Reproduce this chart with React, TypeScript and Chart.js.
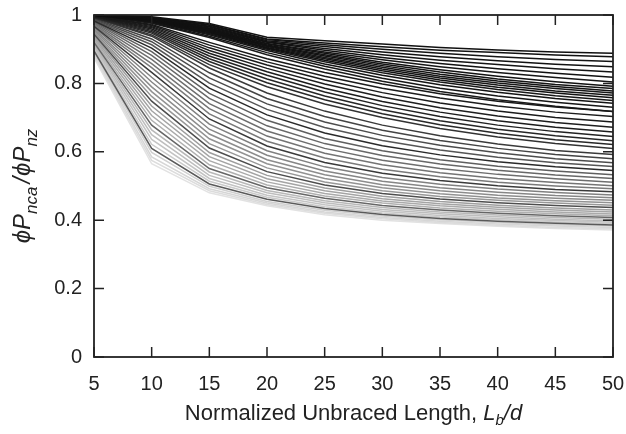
import React, { useEffect, useRef } from "react";
import { Chart, registerables } from "chart.js";

Chart.register(...registerables);

// Normalized unbraced length Lb/d
const lengthRatios = [5, 10, 15, 20, 25, 30, 35, 40, 45, 50];

// Upper black band (phiPnca/phiPnz)
const blackBand = [
  [1.0, 0.995, 0.975, 0.935, 0.925, 0.915, 0.905, 0.898, 0.892, 0.888],
  [1.0, 0.993, 0.972, 0.930, 0.918, 0.907, 0.897, 0.890, 0.883, 0.878],
  [1.0, 0.992, 0.970, 0.928, 0.913, 0.900, 0.888, 0.878, 0.870, 0.864],
  [1.0, 0.990, 0.967, 0.925, 0.908, 0.892, 0.878, 0.866, 0.856, 0.849],
  [1.0, 0.990, 0.965, 0.922, 0.902, 0.884, 0.868, 0.855, 0.843, 0.833],
  [1.0, 0.989, 0.962, 0.920, 0.897, 0.876, 0.858, 0.843, 0.830, 0.818],
  [1.0, 0.988, 0.960, 0.917, 0.892, 0.869, 0.849, 0.832, 0.817, 0.804],
  [1.0, 0.987, 0.958, 0.915, 0.888, 0.862, 0.840, 0.821, 0.805, 0.792],
  [1.0, 0.986, 0.956, 0.912, 0.884, 0.857, 0.833, 0.813, 0.797, 0.785],
  [1.0, 0.985, 0.954, 0.910, 0.880, 0.852, 0.827, 0.807, 0.791, 0.778],
  [1.0, 0.984, 0.952, 0.908, 0.876, 0.847, 0.821, 0.801, 0.785, 0.772],
  [1.0, 0.983, 0.950, 0.905, 0.872, 0.842, 0.816, 0.795, 0.778, 0.765],
  [1.0, 0.982, 0.948, 0.903, 0.868, 0.837, 0.810, 0.789, 0.772, 0.758],
  [1.0, 0.981, 0.945, 0.900, 0.863, 0.831, 0.804, 0.782, 0.764, 0.750],
  [1.0, 0.980, 0.942, 0.896, 0.857, 0.824, 0.796, 0.774, 0.756, 0.742],
  [1.0, 0.978, 0.938, 0.890, 0.850, 0.815, 0.786, 0.763, 0.745, 0.730],
  [0.999, 0.976, 0.934, 0.884, 0.842, 0.806, 0.776, 0.752, 0.733, 0.718],
];
const blackShades = [17, 17, 20, 17, 20, 17, 22, 17, 20, 17, 22, 20, 17, 24, 20, 22, 26];

// Second dark band
const darkBand = [
  [0.998, 0.972, 0.920, 0.872, 0.832, 0.798, 0.770, 0.748, 0.731, 0.718],
  [0.998, 0.969, 0.912, 0.863, 0.821, 0.786, 0.757, 0.734, 0.716, 0.703],
  [0.997, 0.966, 0.904, 0.854, 0.810, 0.773, 0.743, 0.719, 0.700, 0.687],
  [0.997, 0.963, 0.896, 0.844, 0.798, 0.760, 0.729, 0.705, 0.686, 0.672],
  [0.996, 0.959, 0.888, 0.834, 0.786, 0.747, 0.716, 0.691, 0.672, 0.658],
  [0.995, 0.955, 0.880, 0.824, 0.775, 0.735, 0.703, 0.678, 0.659, 0.645],
  [0.994, 0.951, 0.872, 0.813, 0.763, 0.723, 0.691, 0.666, 0.647, 0.632],
  [0.993, 0.947, 0.864, 0.802, 0.752, 0.711, 0.679, 0.654, 0.635, 0.621],
  [0.992, 0.942, 0.855, 0.790, 0.740, 0.700, 0.668, 0.643, 0.624, 0.610],
];
const darkShades = [24, 28, 26, 30, 28, 34, 38, 40, 50];

// Grey band, lowest first
const greyBand = [
  [0.875, 0.565, 0.480, 0.442, 0.416, 0.400, 0.390, 0.382, 0.376, 0.371],
  [0.880, 0.575, 0.486, 0.446, 0.420, 0.404, 0.393, 0.385, 0.379, 0.375],
  [0.885, 0.585, 0.492, 0.450, 0.424, 0.408, 0.397, 0.389, 0.383, 0.379],
  [0.890, 0.598, 0.499, 0.455, 0.429, 0.412, 0.401, 0.393, 0.387, 0.383],
  [0.895, 0.610, 0.506, 0.461, 0.434, 0.417, 0.405, 0.397, 0.391, 0.386],
  [0.900, 0.622, 0.514, 0.467, 0.439, 0.421, 0.409, 0.401, 0.395, 0.390],
  [0.905, 0.636, 0.522, 0.473, 0.445, 0.426, 0.414, 0.405, 0.399, 0.394],
  [0.910, 0.650, 0.531, 0.480, 0.451, 0.431, 0.419, 0.410, 0.403, 0.398],
  [0.915, 0.664, 0.541, 0.487, 0.457, 0.437, 0.424, 0.415, 0.408, 0.403],
  [0.920, 0.678, 0.551, 0.495, 0.464, 0.443, 0.430, 0.420, 0.413, 0.408],
  [0.925, 0.692, 0.562, 0.503, 0.471, 0.450, 0.436, 0.426, 0.419, 0.413],
  [0.930, 0.706, 0.574, 0.512, 0.478, 0.456, 0.442, 0.432, 0.424, 0.418],
  [0.935, 0.720, 0.586, 0.521, 0.486, 0.463, 0.448, 0.438, 0.430, 0.424],
  [0.940, 0.734, 0.598, 0.531, 0.494, 0.470, 0.455, 0.444, 0.436, 0.430],
  [0.944, 0.748, 0.611, 0.542, 0.503, 0.478, 0.462, 0.451, 0.443, 0.437],
  [0.948, 0.762, 0.624, 0.553, 0.512, 0.486, 0.469, 0.458, 0.450, 0.444],
  [0.952, 0.776, 0.638, 0.565, 0.522, 0.495, 0.477, 0.465, 0.457, 0.451],
  [0.956, 0.790, 0.652, 0.577, 0.533, 0.504, 0.486, 0.473, 0.464, 0.458],
  [0.960, 0.804, 0.666, 0.590, 0.544, 0.514, 0.495, 0.482, 0.472, 0.466],
  [0.964, 0.818, 0.681, 0.603, 0.556, 0.525, 0.505, 0.491, 0.481, 0.474],
  [0.967, 0.832, 0.696, 0.617, 0.569, 0.537, 0.516, 0.501, 0.490, 0.483],
  [0.970, 0.846, 0.711, 0.631, 0.582, 0.549, 0.527, 0.511, 0.500, 0.492],
  [0.973, 0.858, 0.726, 0.646, 0.596, 0.562, 0.539, 0.522, 0.510, 0.501],
  [0.976, 0.870, 0.741, 0.661, 0.610, 0.575, 0.551, 0.534, 0.521, 0.511],
  [0.979, 0.882, 0.756, 0.676, 0.624, 0.589, 0.564, 0.546, 0.532, 0.522],
  [0.981, 0.893, 0.771, 0.692, 0.639, 0.603, 0.577, 0.558, 0.544, 0.533],
  [0.983, 0.903, 0.786, 0.708, 0.655, 0.618, 0.591, 0.571, 0.556, 0.545],
  [0.985, 0.913, 0.801, 0.724, 0.671, 0.633, 0.605, 0.584, 0.568, 0.557],
  [0.987, 0.922, 0.816, 0.740, 0.687, 0.648, 0.619, 0.597, 0.580, 0.568],
  [0.989, 0.930, 0.831, 0.756, 0.703, 0.663, 0.633, 0.610, 0.592, 0.580],
  [0.991, 0.938, 0.845, 0.772, 0.719, 0.678, 0.647, 0.623, 0.604, 0.592],
];
const greyShades = [
  226, 220, 214, 208, 90, 202, 196, 190, 184, 102, 176, 170, 164, 158, 77, 152,
  146, 140, 134, 128, 58, 122, 116, 110, 104, 95, 42, 85, 76, 68, 58,
];

const yTickStep = 0.2;
const xTickStep = 5;

const FONT = "'Liberation Sans', Arial, 'DejaVu Sans', sans-serif";
const INK = "#222";

type Seg = { t: string; f: string; dy: number; gap?: number };

function drawSegments(ctx: CanvasRenderingContext2D, segs: Seg[], cx: number, baseY: number) {
  let total = 0;
  for (const s of segs) {
    ctx.font = s.f;
    total += ctx.measureText(s.t).width + (s.gap || 0);
  }
  let x = cx - total / 2;
  for (const s of segs) {
    ctx.font = s.f;
    ctx.fillText(s.t, x, baseY + s.dy);
    x += ctx.measureText(s.t).width + (s.gap || 0);
  }
}

const framePlugin = {
  id: "frameTicks",
  afterDraw(chart: any) {
    const { ctx, chartArea } = chart;
    const { left, right, top, bottom } = chartArea;
    const xs = chart.scales.x;
    const ys = chart.scales.y;
    ctx.save();
    ctx.strokeStyle = INK;
    ctx.lineWidth = 1.8;
    ctx.strokeRect(left, top, right - left, bottom - top);
    ctx.lineWidth = 1.5;
    ctx.beginPath();
    xs.ticks.forEach((t: any) => {
      const px = xs.getPixelForValue(t.value);
      ctx.moveTo(px, bottom);
      ctx.lineTo(px, bottom - 10);
      ctx.moveTo(px, top);
      ctx.lineTo(px, top + 10);
    });
    ys.ticks.forEach((t: any) => {
      const py = ys.getPixelForValue(t.value);
      ctx.moveTo(left, py);
      ctx.lineTo(left + 10, py);
      ctx.moveTo(right, py);
      ctx.lineTo(right - 10, py);
    });
    ctx.stroke();

    ctx.fillStyle = INK;
    ctx.textBaseline = "alphabetic";
    ctx.textAlign = "left";
    const big = `22px ${FONT}`;
    const it = `italic 22px ${FONT}`;
    const sub = `italic 15px ${FONT}`;
    // x title
    drawSegments(
      ctx,
      [
        { t: "Normalized Unbraced Length, ", f: big, dy: 0 },
        { t: "L", f: it, dy: 0 },
        { t: "b", f: sub, dy: 5 },
        { t: "/", f: it, dy: 0 },
        { t: "d", f: it, dy: 0 },
      ],
      (left + right) / 2,
      420
    );
    // y title
    const yit = `italic 24px ${FONT}`;
    const ysub = `italic 17px ${FONT}`;
    ctx.translate(30, (top + bottom) / 2);
    ctx.rotate(-Math.PI / 2);
    drawSegments(
      ctx,
      [
        { t: "\u03D5", f: yit, dy: 0 },
        { t: "P", f: yit, dy: 0 },
        { t: "nca", f: ysub, dy: 7, gap: 3 },
        { t: "/", f: yit, dy: 0, gap: 1 },
        { t: "\u03D5", f: yit, dy: 0 },
        { t: "P", f: yit, dy: 0 },
        { t: "nz", f: ysub, dy: 7 },
      ],
      0,
      0
    );
    ctx.restore();
  },
};

function gray(v: number) {
  return `rgb(${v},${v},${v})`;
}

export default function App() {
  const ref = useRef<HTMLCanvasElement | null>(null);
  useEffect(() => {
    if (!ref.current) return;
    const mk = (rows: number[][], shades: number[]) =>
      rows.map((row, i) => ({
        data: lengthRatios.map((x, j) => ({ x, y: row[j] })),
        borderColor: gray(shades[i]),
        borderWidth: 1.5,
        pointRadius: 0,
        fill: false,
        tension: 0,
        order: shades[i],
      }));
    const datasets = [
      ...mk(blackBand, blackShades),
      ...mk(darkBand, darkShades),
      ...mk(greyBand, greyShades),
    ];
    const chart = new Chart(ref.current, {
      type: "line",
      data: { datasets },
      options: {
        animation: false,
        responsive: false,
        layout: { padding: { top: 15, right: 13, left: 0, bottom: 0 } },
        plugins: { legend: { display: false }, tooltip: { enabled: false } },
        scales: {
          x: {
            type: "linear",
            min: 5,
            max: 50,
            ticks: {
              stepSize: xTickStep,
              color: INK,
              font: { size: 20, family: FONT },
              padding: 15,
              maxRotation: 0,
            },
            grid: { display: false, drawTicks: false },
            border: { display: false },
            afterFit: (s: any) => {
              s.height = 77;
              s.paddingLeft = 0;
              s.paddingRight = 0;
            },
          },
          y: {
            type: "linear",
            min: 0,
            max: 1,
            ticks: {
              stepSize: yTickStep,
              color: INK,
              font: { size: 20, family: FONT },
              padding: 12,
              callback: (v: any) => String(Math.round(Number(v) * 10) / 10),
            },
            grid: { display: false, drawTicks: false },
            border: { display: false },
            afterFit: (s: any) => {
              s.width = 94;
              s.paddingTop = 0;
              s.paddingBottom = 0;
            },
          },
        },
      },
      plugins: [framePlugin],
    } as any);
    return () => chart.destroy();
  }, []);
  return (
    <div style={{ position: "absolute", left: 0, top: 0, width: 626, height: 434, background: "#fff" }}>
      <canvas ref={ref} width={626} height={434} style={{ display: "block" }} />
    </div>
  );
}
